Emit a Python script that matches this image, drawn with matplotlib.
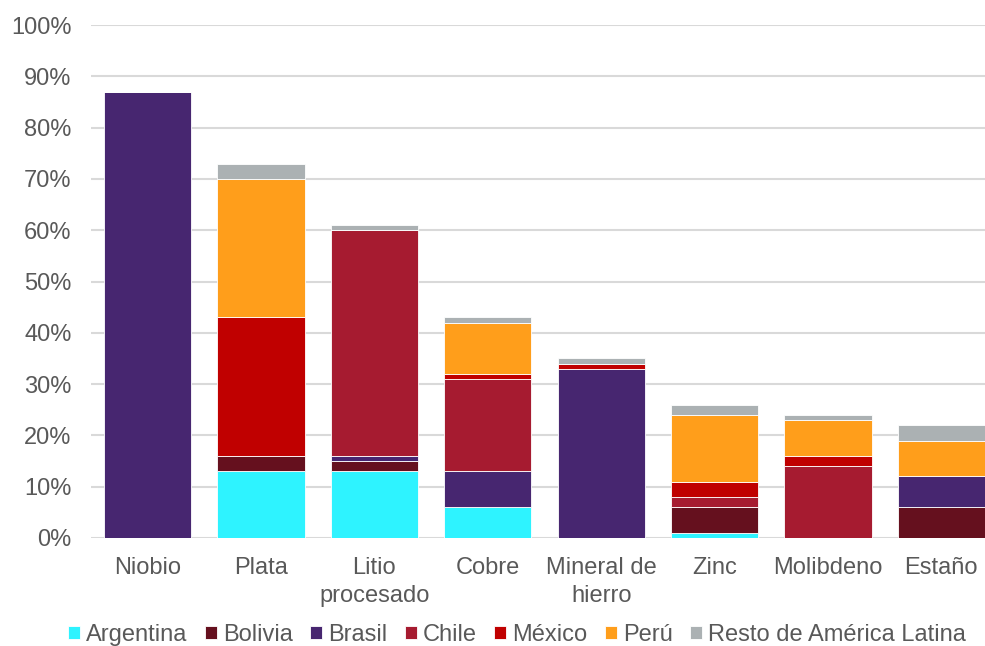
import matplotlib
matplotlib.use("Agg")
import matplotlib.pyplot as plt
import numpy as np

plt.rcParams['font.family'] = ['Liberation Sans', 'DejaVu Sans']

categories = ["Niobio", "Plata", "Litio\nprocesado", "Cobre", "Mineral de\nhierro", "Zinc", "Molibdeno", "Estaño"]
argentina = [0, 13, 13, 6, 0, 1, 0, 0]
bolivia   = [0, 3, 2, 0, 0, 5, 0, 6]
brasil    = [87, 0, 1, 7, 33, 0, 0, 6]
chile     = [0, 0, 44, 18, 0, 2, 14, 0]
mexico    = [0, 27, 0, 1, 1, 3, 2, 0]
peru      = [0, 27, 0, 10, 0, 13, 7, 7]
resto     = [0, 3, 1, 1, 1, 2, 1, 3]

series_names = ["Argentina", "Bolivia", "Brasil", "Chile", "México", "Perú", "Resto de América Latina"]
series_vals = [argentina, bolivia, brasil, chile, mexico, peru, resto]
colors = ["#2EF3FF", "#65101E", "#472670", "#A61B30", "#C00000", "#FF9E1B", "#ABB1B3"]
yticks = [0, 10, 20, 30, 40, 50, 60, 70, 80, 90, 100]

fig = plt.figure(figsize=(9.85, 6.46), dpi=100)
ax = fig.add_axes([91/985, 1-538/646, 907/985, (538-25)/646])

x = np.arange(len(categories))
bottom = np.zeros(len(categories))
for name, vals, c in zip(series_names, series_vals, colors):
    v = np.array(vals, dtype=float)
    ax.bar(x, v, bottom=bottom, width=0.77, color=c, label=name,
           edgecolor="white", linewidth=0.6, zorder=3)
    bottom += v

ax.set_xlim(-0.5, len(categories) - 0.5)
ax.set_ylim(0, 100)
ax.set_yticks(yticks)
ax.set_yticklabels([f"{t}%" for t in yticks])
ax.set_xticks(x)
ax.set_xticklabels(categories, linespacing=1.3)
ax.yaxis.grid(True, color="#D9D9D9", linewidth=1.5, zorder=0)
ax.set_axisbelow(True)
for s in ax.spines.values():
    s.set_visible(False)
ax.tick_params(axis="both", length=0, labelsize=17, colors="#595959")
ax.tick_params(axis="y", pad=14)
ax.tick_params(axis="x", pad=14)

leg = fig.legend(loc="lower center", bbox_to_anchor=(0.525, -0.033), ncol=7, frameon=False,
                 fontsize=17, handlelength=0.5, handleheight=0.5, handletextpad=0.25,
                 columnspacing=0.75, labelcolor="#595959")
fig.savefig("out.png", dpi=100)
